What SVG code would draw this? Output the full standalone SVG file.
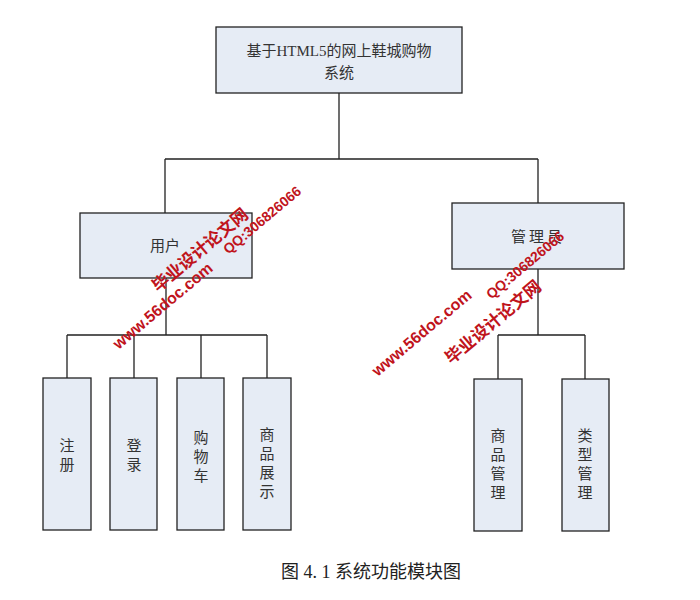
<svg xmlns="http://www.w3.org/2000/svg" width="700" height="600" viewBox="0 0 700 600">
<style>
.box{fill:#e6ecf5;stroke:#222;stroke-width:1.3}
.t{font-family:"Liberation Serif","Noto Sans CJK SC",serif;font-size:15px;fill:#333;text-anchor:middle}
.c{fill:none;stroke:#222;stroke-width:1.3}
.wm{font-family:"Liberation Sans","Noto Sans CJK SC",sans-serif;font-weight:bold;fill:#c0141c;text-anchor:middle}
</style>
<rect width="700" height="600" fill="#fff"/>
<g id="connectors">
<path class="c" d="M339 93V159M165 159H538M165 159V213M538 159V203M166 278V335M67 335H267M67 335V378M134 335V378M201 335V378M267 335V378M538 269V335M498 335H585M498 335V379M585 335V379"/>
</g>
<g id="root"><rect class="box" x="216" y="27" width="246" height="66"/><text class="t" x="339" y="56">基于HTML5的网上鞋城购物</text><text class="t" x="339" y="78">系统</text></g>
<g id="user"><rect class="box" x="80" y="213" width="172" height="65"/><text class="t" x="165" y="251">用户</text></g>
<g id="admin"><rect class="box" x="452" y="203" width="172" height="66"/><text class="t" x="538" y="242" letter-spacing="3">管理员</text></g>
<g id="n1"><rect class="box" x="43" y="378" width="48" height="152"/><text class="t" x="67" y="451">注</text><text class="t" x="67" y="470">册</text></g>
<g id="n2"><rect class="box" x="110" y="378" width="47" height="152"/><text class="t" x="134" y="451">登</text><text class="t" x="134" y="470">录</text></g>
<g id="n3"><rect class="box" x="177" y="378" width="47" height="152"/><text class="t" x="201" y="443">购</text><text class="t" x="201" y="462">物</text><text class="t" x="201" y="481">车</text></g>
<g id="n4"><rect class="box" x="243" y="378" width="48" height="152"/><text class="t" x="267" y="440">商</text><text class="t" x="267" y="459">品</text><text class="t" x="267" y="478">展</text><text class="t" x="267" y="497">示</text></g>
<g id="n5"><rect class="box" x="474" y="379" width="48" height="152"/><text class="t" x="498" y="441">商</text><text class="t" x="498" y="460">品</text><text class="t" x="498" y="479">管</text><text class="t" x="498" y="498">理</text></g>
<g id="n6"><rect class="box" x="562" y="379" width="47" height="152"/><text class="t" x="585" y="441">类</text><text class="t" x="585" y="460">型</text><text class="t" x="585" y="479">管</text><text class="t" x="585" y="498">理</text></g>
<text x="371" y="578" font-family="Liberation Serif,Noto Sans CJK SC,serif" font-size="18" fill="#222" text-anchor="middle">图 4. 1 系统功能模块图</text>
<g transform="translate(200,250) rotate(-40)"><text class="wm" x="0" y="6" font-size="17">毕业设计论文网</text></g>
<g transform="translate(262,220) rotate(-40)"><text class="wm" x="0" y="5" font-size="14">QQ:306826066</text></g>
<g transform="translate(163,306) rotate(-40)"><text class="wm" x="0" y="5" font-size="16">www.56doc.com</text></g>
<g transform="translate(493,322) rotate(-40)"><text class="wm" x="0" y="6" font-size="17">毕业设计论文网</text></g>
<g transform="translate(525,265) rotate(-40)"><text class="wm" x="0" y="5" font-size="14">QQ:306826066</text></g>
<g transform="translate(422,333) rotate(-40)"><text class="wm" x="0" y="5" font-size="16">www.56doc.com</text></g>
</svg>
